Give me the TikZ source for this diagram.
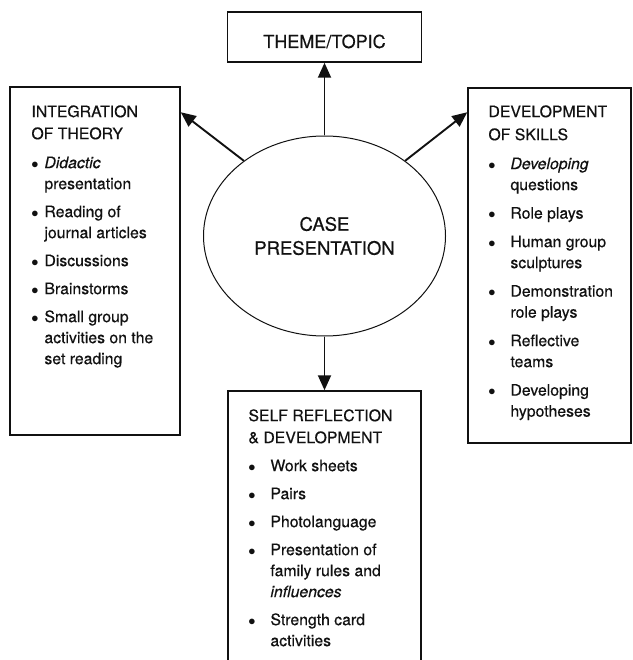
\documentclass[tikz,border=0pt]{standalone}
\usepackage{fontspec}
\setmainfont{TeX Gyre Heros}[FakeBold=0.5]
\usepackage{tikz}
\usetikzlibrary{arrows.meta,positioning,shapes.geometric}
\definecolor{ink}{HTML}{111111}
\tikzset{
  framebox/.style={
    rectangle, draw=ink, line width=1.5pt, inner sep=0pt
  },
  listtext/.style={
    inner sep=0pt, text=ink,
    font=\fontsize{15.8pt}{21pt}\selectfont
  },
  linkarrow/.style={
    -{Triangle[length=15pt,width=13pt]}, line width=1.9pt, draw=ink
  },
}

\begin{document}
\begin{tikzpicture}[x=1pt,y=-1pt]
  \clip (0,0) rectangle (632,660);

  % Centre
  \node[framebox, ellipse, line width=1pt, minimum width=242pt, minimum height=200pt,
    align=center, text=ink, font=\fontsize{18.5pt}{24pt}\selectfont] (case) at (324.5,236) {CASE\\PRESENTATION};

  % Boxes
  \node[framebox, minimum width=194pt, minimum height=50pt, text height=22pt, text depth=0pt,
    text=ink, font=\fontsize{18pt}{22pt}\selectfont] (theme) at (324.5,37) {THEME/TOPIC};
  \node[framebox, minimum width=170pt, minimum height=348pt] (integ) at (95,261) {};
  \node[framebox, minimum width=163pt, minimum height=355pt] (skills) at (549.5,265.5) {};
  \node[framebox, minimum width=193pt, minimum height=300pt] (self) at (324.5,541) {};

  % Arrows
  \draw[linkarrow] (case.north) -- (theme.south);
  \draw[linkarrow] (case.south) -- (self.north);
  \draw[linkarrow] (case.137) -- ([yshift=-26pt]integ.north east);
  \draw[linkarrow] (case.43) -- ([yshift=-25pt]skills.north west);

  % Lists
  \node[listtext, below right=16pt and 22pt of integ.north west] (integlist) {%
    \begin{tabular}{@{}p{13pt}@{}l@{}}
      \multicolumn{2}{@{}l@{}}{INTEGRATION}\\[1pt]
      \multicolumn{2}{@{}l@{}}{OF THEORY}\\[8pt]
      $\bullet$ & \textit{Didactic}\\
      & presentation\\[7pt]
      $\bullet$ & Reading of\\
      & journal articles\\[7pt]
      $\bullet$ & Discussions\\[7pt]
      $\bullet$ & Brainstorms\\[7pt]
      $\bullet$ & Small group\\
      & activities on the\\
      & set reading
    \end{tabular}};
  \node[listtext, below right=15pt and 21pt of skills.north west] (skillslist) {%
    \begin{tabular}{@{}p{22pt}@{}l@{}}
      \multicolumn{2}{@{}l@{}}{DEVELOPMENT}\\[2pt]
      \multicolumn{2}{@{}l@{}}{OF SKILLS}\\[8pt]
      $\bullet$ & \textit{Developing}\\
      & questions\\[7.5pt]
      $\bullet$ & Role plays\\[7.5pt]
      $\bullet$ & Human group\\
      & sculptures\\[7.5pt]
      $\bullet$ & Demonstration\\
      & role plays\\[7.5pt]
      $\bullet$ & Reflective\\
      & teams\\[7.5pt]
      $\bullet$ & Developing\\
      & hypotheses
    \end{tabular}};
  \node[listtext, below right=16pt and 21pt of self.north west] (selflist) {%
    \begin{tabular}{@{}p{22pt}@{}l@{}}
      \multicolumn{2}{@{}l@{}}{SELF REFLECTION}\\[1pt]
      \multicolumn{2}{@{}l@{}}{\& DEVELOPMENT}\\[7pt]
      $\bullet$ & Work sheets\\[7pt]
      $\bullet$ & Pairs\\[7pt]
      $\bullet$ & Photolanguage\\[7pt]
      $\bullet$ & Presentation of\\
      & family rules and\\
      & \textit{influences}\\[7pt]
      $\bullet$ & Strength card\\
      & activities
    \end{tabular}};
\end{tikzpicture}
\end{document}
